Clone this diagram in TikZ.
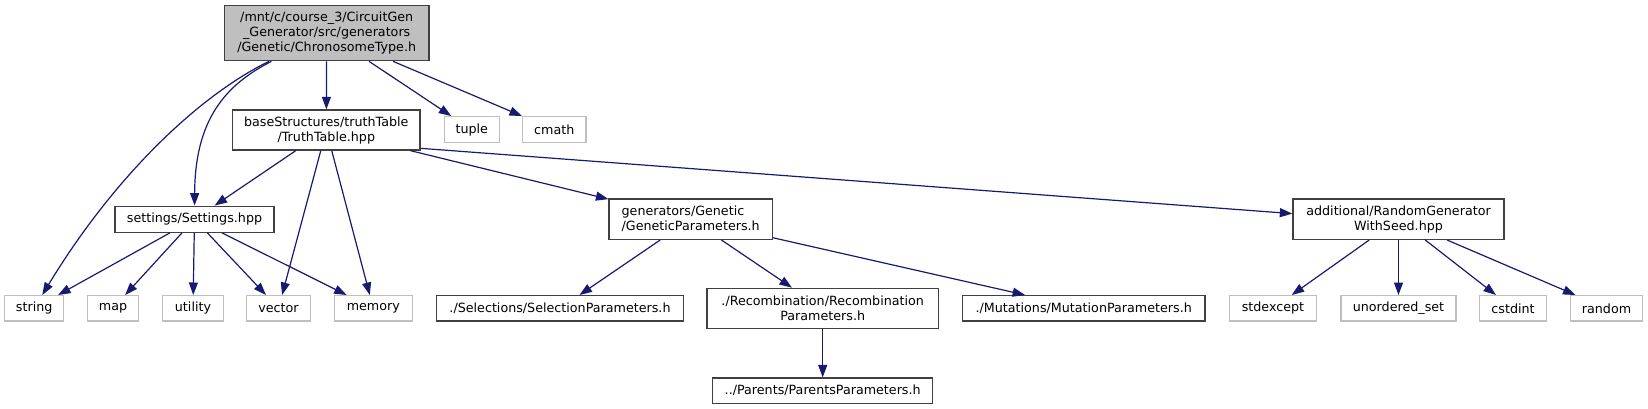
\documentclass[tikz,border=0pt]{standalone}
\usepackage{fontspec}
\setmainfont{DejaVu Sans}
\usetikzlibrary{arrows.meta}
\usepackage{xcolor}

\definecolor{edgeblue}{HTML}{191970}
\definecolor{boxgray}{HTML}{BFBFBF}
\definecolor{boxline}{HTML}{404040}

\begin{document}
\begin{tikzpicture}[x=1pt,y=-1pt,
  font=\fontsize{12.7}{15}\selectfont,
  every node/.style={inner sep=0pt, align=center, minimum height=26pt},
  file/.style={draw=boxline, line width=1.3pt},
  sys/.style={draw=boxgray, line width=1.3pt},
  dep/.style={edgeblue, line width=1.2pt, -{Triangle[length=12.5pt,width=9pt]}}]
  \useasboundingbox (0,0) rectangle (1648,409);

  % headers of the project
  \node[file, fill=boxgray, minimum width=204.7pt, minimum height=55pt] (root) at (326.7,33.2)
    {/mnt/c/course\_3/CircuitGen\\\_Generator/src/generators\\/Genetic/ChronosomeType.h};
  \node[file, minimum width=187.3pt, minimum height=40pt] (tt) at (326.3,130)
    {baseStructures/truthTable\\/TruthTable.hpp};
  \node[file, minimum width=159pt] (set) at (194.5,219.2) {settings/Settings.hpp};
  \node[file, align=left, minimum width=163.3pt, minimum height=40.3pt] (gp) at (690.7,219.2)
    {generators/Genetic\\/GeneticParameters.h};
  \node[file, minimum width=211pt, minimum height=40.3pt] (rg) at (1398.5,219.2)
    {additional/RandomGenerator\\WithSeed.hpp};
  \node[file, minimum width=246.6pt, minimum height=25.3pt] (sel) at (560,308.3)
    {./Selections/SelectionParameters.h};
  \node[file, minimum width=231.3pt, minimum height=40.4pt] (rec) at (822.7,308.5)
    {./Recombination/Recombination\\Parameters.h};
  \node[file, minimum width=242.7pt, minimum height=25.3pt] (mut) at (1083.7,308.3)
    {./Mutations/MutationParameters.h};
  \node[file, minimum width=220pt, minimum height=25.3pt] (par) at (822.7,390.7)
    {../Parents/ParentsParameters.h};

  % system headers
  \node[sys, minimum width=55pt] (tuple) at (471.8,129.7) {tuple};
  \node[sys, minimum width=63.3pt] (cmath) at (554.3,129.7) {cmath};
  \foreach \n/\x/\w/\t in {string/34.2/59/string, map/113/51.4/map, utility/193/60.6/utility,
      vector/278.5/63.6/vector, memory/373.3/78/memory, stdexcept/1273/87.4/stdexcept,
      uset/1398.5/115/unordered\_set, cstdint/1513/67.4/cstdint, random/1606.5/72.4/random}
    \node[sys, minimum width=\w pt, minimum height=25.3pt] (\n) at (\x,308.3) {\t};

  % includes
  \draw[dep] (root) .. controls (200,95) and (115,175) .. (string);
  \draw[dep] (root) .. controls (225,85) and (195,120) .. (set);
  \foreach \t in {tt,tuple,cmath}
    \draw[dep] (root) -- (\t);
  \foreach \t in {set,vector,memory,gp}
    \draw[dep] (tt) -- (\t);
  \draw[dep] (tt.-11) -- (rg.177);
  \foreach \t in {string,map,utility,vector,memory}
    \draw[dep] (set) -- (\t);
  \foreach \t in {sel,rec,mut}
    \draw[dep] (gp) -- (\t);
  \draw[dep] (rec) -- (par);
  \foreach \t in {stdexcept,uset,cstdint,random}
    \draw[dep] (rg) -- (\t);
\end{tikzpicture}
\end{document}
